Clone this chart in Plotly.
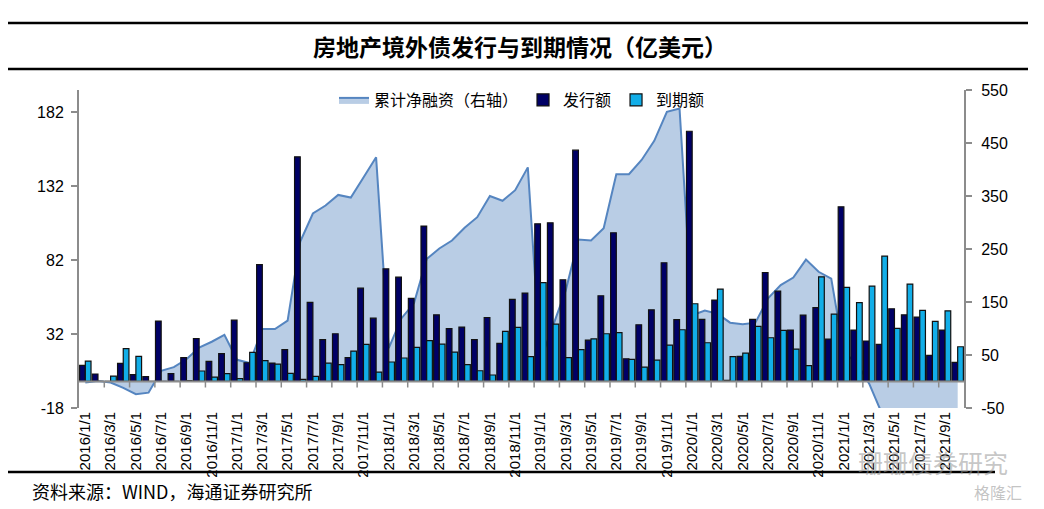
import plotly.graph_objects as go

# ---- data ----
months = [f"{y}/{m}/1" for y in range(2016, 2022) for m in range(1, 13)][:70]

issue = [10.8, 5.0, 0.0, 12.2, 4.5, 3.2, 40.8, 5.2, 16.0, 29.0, 13.5, 18.7,
         41.4, 12.6, 79.0, 12.4, 21.4, 151.8, 53.4, 28.2, 32.2, 16.0, 63.0, 42.7,
         76.1, 70.5, 56.1, 105.0, 45.0, 35.6, 36.7, 28.2, 43.2, 25.7, 55.4, 59.7,
         106.5, 107.2, 68.7, 156.3, 27.9, 57.9, 100.5, 15.3, 38.3, 48.4, 80.2, 41.7,
         169.1, 41.9, 55.0, 0.7, 16.9, 41.9, 73.6, 61.0, 34.7, 44.8, 49.8, 28.6,
         118.0, 34.7, 27.3, 25.0, 49.1, 45.0, 43.5, 17.6, 34.7, 12.8]

mature = [13.7, 0.0, 3.6, 22.1, 16.9, 0.0, 0.0, 0.0, 0.5, 7.0, 2.9, 5.2,
          1.8, 19.6, 14.0, 11.7, 5.4, 1.4, 3.4, 12.4, 11.3, 20.5, 25.0, 6.3,
          13.1, 15.8, 23.0, 27.5, 25.2, 19.8, 11.3, 7.2, 4.3, 33.8, 36.5, 16.7,
          66.7, 38.7, 16.0, 21.4, 28.8, 32.2, 32.9, 14.9, 9.7, 14.4, 24.5, 34.9,
          52.5, 26.1, 62.4, 16.7, 19.1, 37.2, 29.5, 34.5, 21.8, 10.6, 70.7, 45.5,
          63.5, 53.2, 64.4, 84.7, 35.8, 65.8, 48.0, 40.5, 47.7, 23.4]

cum_net = [-2, 1, -2, -12, -24, -21, 20, 27, 42, 64, 75, 88,
           41, 35, 99, 99, 115, 264, 317, 332, 352, 347, 385, 423,
           63, 119, 148, 231, 251, 266, 290, 310, 350, 341, 361, 404,
           40, 107, 172, 268, 266, 289, 391, 391, 418, 454, 509, 515,
           125, 134, 128, 111, 108, 111, 157, 182, 196, 230, 207, 194,
           54, 36, -4, -60, -55, -70, -75, -95, -108, -120]

tick_labels = months[::2]
left_ticks = [-18, 32, 82, 132, 182]
right_ticks = [-50, 50, 150, 250, 350, 450, 550]

# page has an 8px body margin; work in page coordinates and convert
OFF = 8
W, H = 1044 - OFF, 509 - OFF
PLOT_X0, PLOT_X1 = 79, 964      # page px
PLOT_Y0, PLOT_Y1 = 90, 408      # page px (top, bottom)
L = PLOT_X0 - OFF
R = W - (PLOT_X1 - OFF)
T = PLOT_Y0 - OFF
B = H - (PLOT_Y1 - OFF)
PW = PLOT_X1 - PLOT_X0
PH = PLOT_Y1 - PLOT_Y0


def px_x(x):
    return (x - PLOT_X0) / PW


def px_y(y):
    return (PLOT_Y1 - y) / PH


CJK = "Noto Sans CJK SC"
LAT = "Arial, Liberation Sans, sans-serif"

fig = go.Figure()
fig.add_trace(go.Scatter(
    x=months, y=cum_net, yaxis="y", name="累计净融资（右轴）",
    mode="lines", fill="tozeroy", fillcolor="#B9CDE5",
    line=dict(color="#5585C0", width=2)))
fig.add_trace(go.Bar(
    x=months, y=issue, yaxis="y2", name="发行额",
    marker=dict(color="#000066", line=dict(color="#111111", width=1.2))))
fig.add_trace(go.Bar(
    x=months, y=mature, yaxis="y2", name="到期额",
    marker=dict(color="#12AEE8", line=dict(color="#111111", width=1.2))))

shapes = []
# zero axis line for the category axis
shapes.append(dict(type="line", xref="paper", x0=0, x1=1, yref="y", y0=0, y1=0,
                   line=dict(color="#8C8C8C", width=2), layer="above"))
# category tick marks on the zero line
for k in range(2, len(months), 2):
    shapes.append(dict(type="line", xref="x", x0=k - 0.5, x1=k - 0.5,
                       yref="y", ysizemode="pixel", yanchor=0, y0=0, y1=-6,
                       line=dict(color="#8C8C8C", width=1.5), layer="above"))
# header / footer rules
shapes.append(dict(type="line", xref="paper", yref="paper",
                   x0=px_x(8), x1=px_x(1028), y0=px_y(23), y1=px_y(23),
                   line=dict(color="black", width=2.5)))
shapes.append(dict(type="line", xref="paper", yref="paper",
                   x0=px_x(8), x1=px_x(1028), y0=px_y(69), y1=px_y(69),
                   line=dict(color="black", width=2.5)))
shapes.append(dict(type="line", xref="paper", yref="paper",
                   x0=px_x(8), x1=px_x(995), y0=px_y(472), y1=px_y(472),
                   line=dict(color="black", width=2.5)))

annotations = [
    dict(text="<b>房地产境外债发行与到期情况（亿美元）</b>", xref="paper", yref="paper",
         x=px_x(520), y=px_y(46), xanchor="center", yanchor="middle",
         showarrow=False, font=dict(family=CJK, size=23, color="black")),
    dict(text="资料来源：WIND，海通证券研究所", xref="paper", yref="paper",
         x=px_x(30), y=px_y(491), xanchor="left", yanchor="middle",
         showarrow=False, font=dict(family=CJK, size=18, color="black")),
    dict(text="珊珊债券研究", xref="paper", yref="paper",
         x=px_x(856), y=px_y(462), xanchor="left", yanchor="middle",
         showarrow=False, font=dict(family=CJK, size=25, color="rgba(150,150,150,0.55)")),
    dict(text="格隆汇", xref="paper", yref="paper",
         x=px_x(972), y=px_y(492), xanchor="left", yanchor="middle",
         showarrow=False, font=dict(family=CJK, size=16, color="rgba(170,170,170,0.7)")),
]

fig.update_layout(
    width=W, height=H,
    margin=dict(l=L, r=R, t=T, b=B, pad=0),
    paper_bgcolor="white", plot_bgcolor="white",
    barmode="group", bargap=0.1, bargroupgap=0.0,
    showlegend=True,
    legend=dict(orientation="h", x=px_x(522), y=px_y(100), xanchor="center", yanchor="middle",
                bgcolor="rgba(0,0,0,0)", font=dict(family=CJK, size=16, color="black"),
                itemwidth=30, traceorder="normal"),
    xaxis=dict(type="category", range=[-0.5, len(months) - 0.5],
               tickmode="array", tickvals=tick_labels, ticktext=tick_labels,
               tickangle=-90, ticks="", showline=False, showgrid=False, zeroline=False,
               tickfont=dict(family=LAT, size=15, color="black"), anchor="y",
               automargin=False),
    yaxis=dict(side="right", range=[-50, 550],
               tickmode="array", tickvals=right_ticks, ticktext=[str(v) for v in right_ticks],
               ticks="outside", ticklen=6, tickwidth=1.5, tickcolor="#8C8C8C",
               showline=True, linecolor="#8C8C8C", linewidth=2,
               showgrid=False, zeroline=False, automargin=False,
               ticklabelstandoff=6,
               tickfont=dict(family=LAT, size=16, color="black")),
    yaxis2=dict(side="left", overlaying="y", range=[-18, 197],
                tickmode="array", tickvals=left_ticks, ticktext=[str(v) for v in left_ticks],
                ticks="outside", ticklen=6, tickwidth=1.5, tickcolor="#8C8C8C",
                showline=True, linecolor="#8C8C8C", linewidth=2,
                showgrid=False, zeroline=False, automargin=False,
                ticklabelstandoff=4,
                tickfont=dict(family=LAT, size=16, color="black")),
    shapes=shapes,
    annotations=annotations,
)

fig.write_html("out.html")
